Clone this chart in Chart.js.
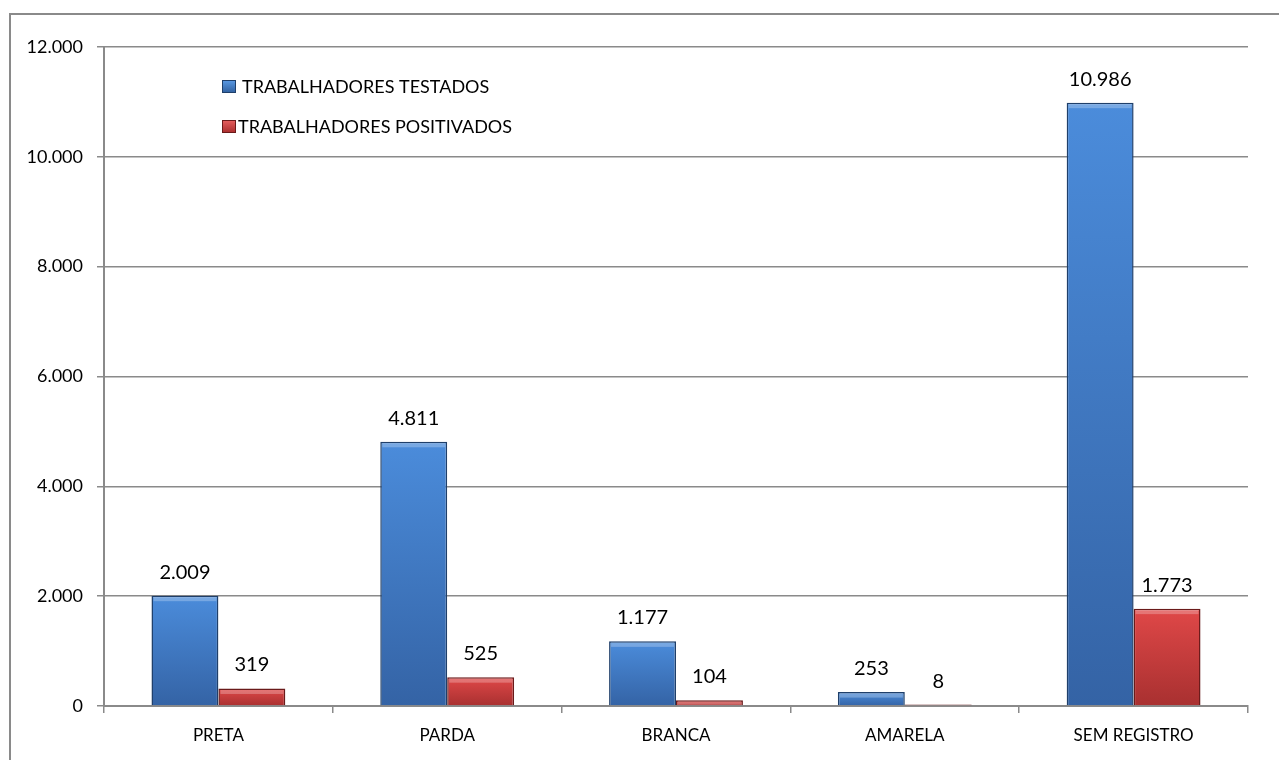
<!DOCTYPE html>
<html>
<head>
<meta charset="utf-8">
<script src="https://cdn.jsdelivr.net/npm/chart.js@4.4.1/dist/chart.umd.min.js"></script>
<style>
  html, body { margin: 0; padding: 0; background: #fff; }
  #wrap { width: 1279px; height: 760px; }
</style>
</head>
<body>
<div id="wrap"><canvas id="bars"></canvas></div>
<script>
var categorias = ["PRETA", "PARDA", "BRANCA", "AMARELA", "SEM REGISTRO"];
var testados = [2009, 4811, 1177, 253, 10986];
var positivados = [319, 525, 104, 8, 1773];
var nomeTestados = "TRABALHADORES TESTADOS";
var nomePositivados = "TRABALHADORES POSITIVADOS";

var fonte = "Lato, 'Open Sans', sans-serif";

var formatoBR = function (v) {
    var s = String(Math.round(v));
    return s.replace(/\B(?=(\d{3})+(?!\d))/g, ".");
};

// gradiente por barra, claro em cima e escuro embaixo
var gradBarra = function (topo, base) {
    return function (context) {
        var chart = context.chart;
        var area = chart.chartArea;
        if (!area || context.raw === undefined) return topo;
        var y = chart.scales.y;
        var yTop = y.getPixelForValue(context.raw);
        var yBot = y.getPixelForValue(0);
        if (yBot - yTop < 1) yTop = yBot - 1;
        var g = chart.ctx.createLinearGradient(0, yTop, 0, yBot);
        g.addColorStop(0, topo);
        g.addColorStop(1, base);
        return g;
    };
};

var moldura = {
    id: "moldura",
    beforeDraw: function (chart) {
        var c = chart.ctx;
        c.save();
        c.strokeStyle = "#8a8a8a";
        c.lineWidth = 2;
        c.strokeRect(10, 14, 1300, 800);
        c.restore();
    }
};

// faixa clara no topo de cada barra (efeito de chanfro)
var chanfro = {
    id: "chanfro",
    afterDatasetsDraw: function (chart) {
        var c = chart.ctx;
        c.save();
        chart.data.datasets.forEach(function (ds, i) {
            chart.getDatasetMeta(i).data.forEach(function (bar) {
                var h = bar.base - bar.y;
                if (h < 4) return;
                var w = bar.width;
                var x0 = bar.x - w / 2;
                c.fillStyle = "rgba(255,255,255,0.25)";
                c.fillRect(x0 + 2, bar.y + 1.5, w - 4, Math.min(4, h - 2));
            });
        });
        c.restore();
    }
};

var rotulos = {
    id: "rotulos",
    afterDatasetsDraw: function (chart) {
        var c = chart.ctx;
        c.save();
        c.font = "20px " + fonte;
        c.fillStyle = "#000";
        c.textAlign = "center";
        c.textBaseline = "alphabetic";
        chart.data.datasets.forEach(function (ds, i) {
            chart.getDatasetMeta(i).data.forEach(function (bar, j) {
                c.fillText(formatoBR(ds.data[j]), bar.x, bar.y - 17);
            });
        });
        c.restore();
    }
};

var legenda = {
    id: "legenda",
    afterDraw: function (chart) {
        var c = chart.ctx;
        var cores = [["#5b9be6", "#2f5f9e", "#1f3f6a"], ["#e86060", "#a82c2c", "#6a1a1a"]];
        c.save();
        c.font = "18px " + fonte;
        c.textBaseline = "middle";
        c.textAlign = "left";
        chart.data.datasets.forEach(function (ds, i) {
            var x = 222, y = 80 + i * 40;
            var g = c.createLinearGradient(0, y, 0, y + 13);
            g.addColorStop(0, cores[i][0]);
            g.addColorStop(1, cores[i][1]);
            c.fillStyle = g;
            c.fillRect(x, y, 14, 13);
            c.strokeStyle = cores[i][2];
            c.lineWidth = 1;
            c.strokeRect(x + 0.5, y + 0.5, 13, 12);
            c.fillStyle = "#000";
            c.fillText(ds.label, x + 20 - i * 4, y + 7);
        });
        c.restore();
    }
};

var ctx_bars = document.getElementById("bars");
var grafico = new Chart(ctx_bars, {
    type: "bar",
    data: {
        labels: categorias,
        datasets: [{
            label: nomeTestados,
            data: testados,
            backgroundColor: gradBarra("#4b8cdb", "#3463a5"),
            borderColor: "#1f3f6a",
            borderWidth: 1.5,
            categoryPercentage: 0.585,
            barPercentage: 1
        }, {
            label: nomePositivados,
            data: positivados,
            backgroundColor: gradBarra("#e04848", "#a83030"),
            borderColor: "#6a1a1a",
            borderWidth: 1.5,
            minBarLength: 1.5,
            categoryPercentage: 0.585,
            barPercentage: 1
        }]
    },
    plugins: [moldura, chanfro, rotulos, legenda],
    options: {
        responsive: true,
        maintainAspectRatio: false,
        animation: false,
        devicePixelRatio: 1,
        layout: { padding: { left: 0, top: 47, right: 31, bottom: 0 } },
        plugins: {
            legend: { display: false },
            tooltip: { enabled: false }
        },
        scales: {
            x: {
                grid: { offset: true, drawOnChartArea: false, drawTicks: true, tickLength: 7, color: "#8a8a8a", lineWidth: 1.5 },
                border: { display: true, color: "#8a8a8a", width: 2 },
                ticks: { color: "#000", font: { family: fonte, size: 17 }, padding: 12 },
                afterFit: function (s) { s.height = 54; }
            },
            y: {
                min: 0,
                max: 12000,
                ticks: {
                    stepSize: 2000,
                    color: "#000",
                    font: { family: fonte, size: 18 },
                    padding: 14,
                    callback: function (v) { return formatoBR(v); }
                },
                grid: { color: "#8a8a8a", lineWidth: 1.5, tickLength: 7 },
                border: { display: true, color: "#8a8a8a", width: 2 },
                afterFit: function (s) { s.width = 104; }
            }
        }
    }
});
</script>
</body>
</html>
